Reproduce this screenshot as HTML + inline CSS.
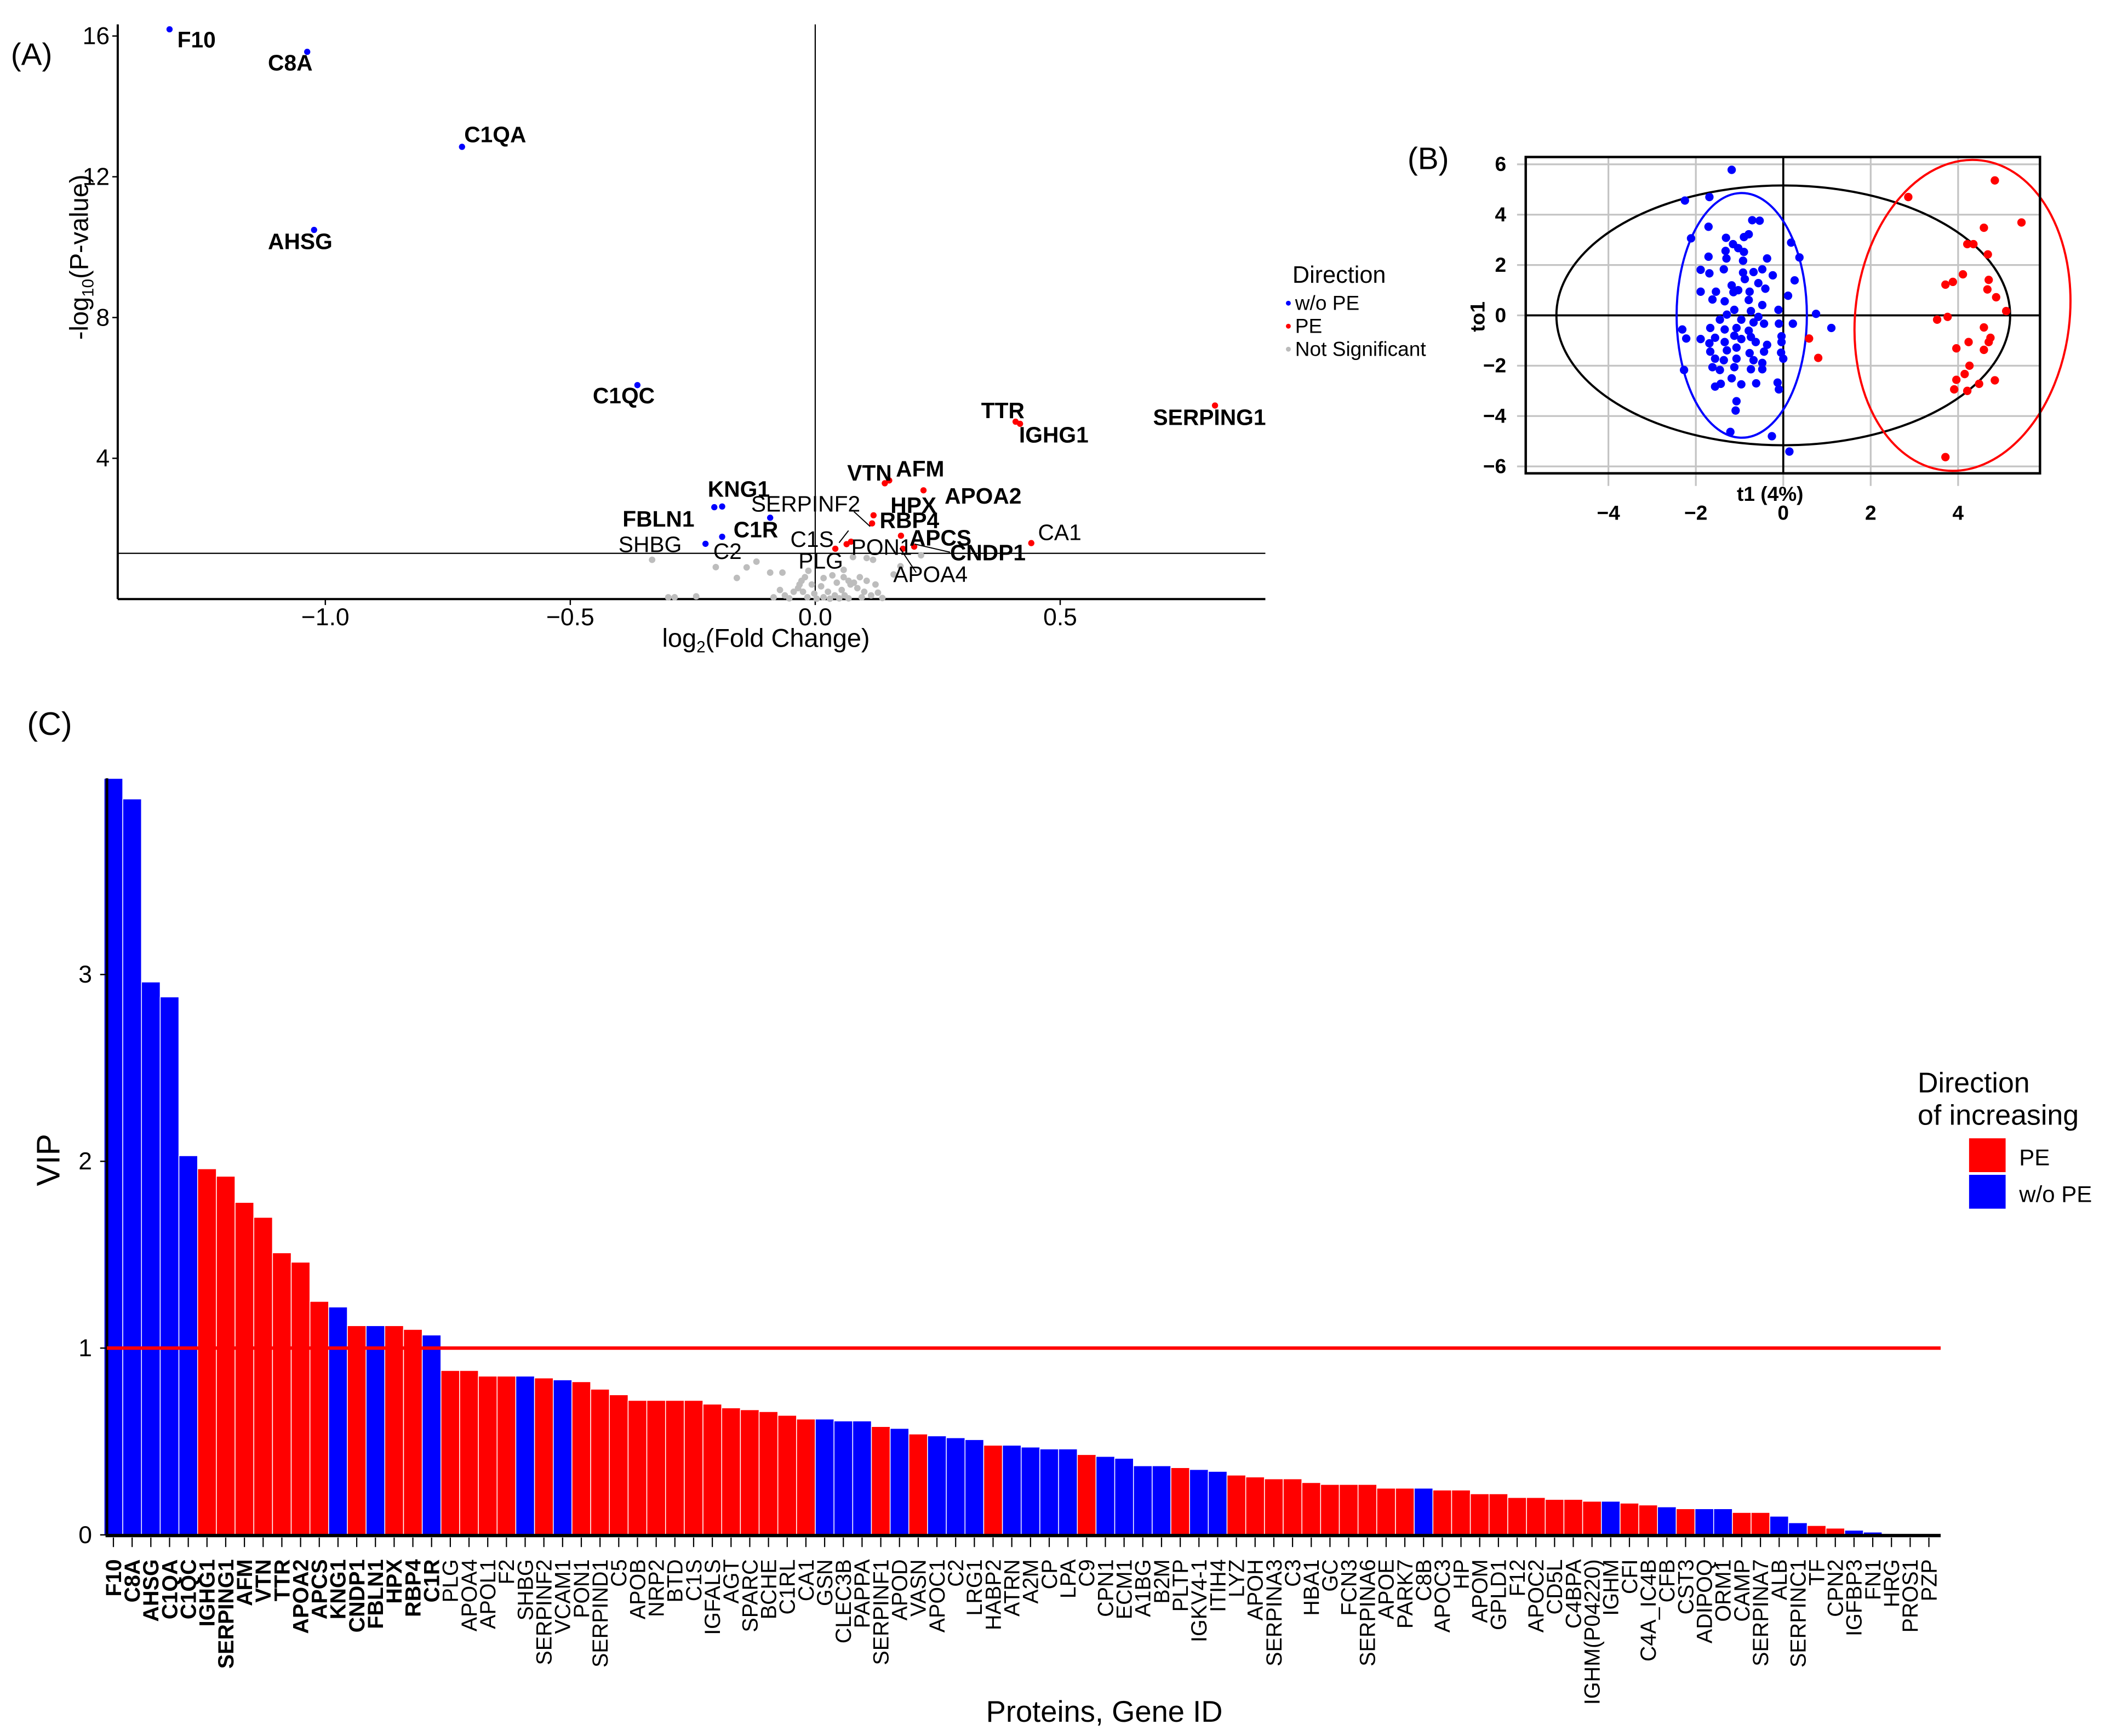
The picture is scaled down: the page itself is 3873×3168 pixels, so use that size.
<!DOCTYPE html>
<html><head><meta charset="utf-8"><style>
html,body{margin:0;padding:0;background:#fff;}
svg{display:block;font-family:"Liberation Sans",Arial,sans-serif;}
</style></head><body>
<svg id="fig" width="3873" height="3168" viewBox="0 0 1568 1282.6" preserveAspectRatio="none" xmlns="http://www.w3.org/2000/svg">
<rect x="0" y="0" width="1568" height="1282.6" fill="#fff"/>
<!-- Panel A static -->
<g id="panelA">
<text x="8" y="48" font-size="23">(A)</text>
<line x1="87" y1="18" x2="87" y2="442.6" stroke="#000" stroke-width="1.6"/>
<line x1="87" y1="442.6" x2="935" y2="442.6" stroke="#000" stroke-width="1.6"/>
<line x1="602.4" y1="18" x2="602.4" y2="442.6" stroke="#000" stroke-width="0.9"/>
<line x1="87" y1="408.8" x2="935" y2="408.8" stroke="#000" stroke-width="0.9"/>
<g id="aTicks"></g>
<g id="aPoints"></g>
<text transform="translate(65,190) rotate(-90)" font-size="19" text-anchor="middle">-log<tspan font-size="12" dy="4">10</tspan><tspan dy="-4">(P-value)</tspan></text>
<text x="566" y="478" font-size="19" text-anchor="middle">log<tspan font-size="12" dy="4">2</tspan><tspan dy="-4">(Fold Change)</tspan></text>
<g font-size="16.5" font-weight="bold">
<text x="131" y="35">F10</text><text x="198" y="52">C8A</text><text x="343" y="105">C1QA</text>
<text x="198" y="184">AHSG</text><text x="438" y="298">C1QC</text><text x="523" y="367">KNG1</text>
<text x="460" y="389">FBLN1</text><text x="542" y="397">C1R</text><text x="626" y="355">VTN</text>
<text x="662" y="352">AFM</text><text x="658" y="379">HPX</text><text x="650" y="390">RBP4</text>
<text x="698" y="372">APOA2</text><text x="672" y="403">APCS</text><text x="702" y="414">CNDP1</text>
<text x="725" y="309">TTR</text><text x="753" y="327">IGHG1</text><text x="852" y="314">SERPING1</text>
</g>
<g font-size="16.5">
<text x="457" y="408">SHBG</text><text x="527" y="413">C2</text><text x="555" y="378">SERPINF2</text>
<text x="584" y="404">C1S</text><text x="590" y="420">PLG</text><text x="629" y="410">PON1</text>
<text x="660" y="430">APOA4</text><text x="767" y="399">CA1</text>
</g>
<g stroke="#000" stroke-width="0.8">
<line x1="631" y1="378" x2="643" y2="389"/><line x1="620" y1="401" x2="627" y2="392"/>
<line x1="665" y1="405" x2="677" y2="423"/><line x1="676" y1="402" x2="702" y2="408"/>
</g>
<g>
<text x="955" y="209" font-size="17.5">Direction</text>
<circle cx="952" cy="224" r="1.8" fill="#0000ff"/><text x="957" y="229" font-size="15">w/o PE</text>
<circle cx="952" cy="241" r="1.8" fill="#ff0000"/><text x="957" y="246" font-size="15">PE</text>
<circle cx="952" cy="258" r="1.8" fill="#bbbbbb"/><text x="957" y="263" font-size="15">Not Significant</text>
</g>
</g>
<!-- Panel B -->
<g id="panelB">
<text x="1040" y="125" font-size="23">(B)</text>
<g id="bGrid"></g>
<g id="bMarks"></g>
<rect x="1127.4" y="116" width="380" height="233.7" fill="none" stroke="#000" stroke-width="1.8"/>
<text x="1308" y="370" font-size="15" font-weight="bold" text-anchor="middle">t1 (4%)</text>
<text transform="translate(1097,234) rotate(-90)" font-size="15" font-weight="bold" text-anchor="middle">to1</text>
</g>
<!-- Panel C -->
<g id="panelC">
<text x="20" y="543" font-size="24">(C)</text>
<g id="cBars"></g>
<line x1="79" y1="575" x2="79" y2="1135" stroke="#000" stroke-width="2"/>
<line x1="78" y1="1134.5" x2="1434" y2="1134.5" stroke="#000" stroke-width="2.5"/>
<line x1="79" y1="996" x2="1434" y2="996" stroke="#ff0000" stroke-width="2.5"/>
<g id="cAxis"></g>
<text transform="translate(44,857) rotate(-90)" font-size="24" text-anchor="middle">VIP</text>
<text x="816" y="1272" font-size="22" text-anchor="middle">Proteins, Gene ID</text>
<g>
<text x="1417" y="807" font-size="21">Direction</text>
<text x="1417" y="831" font-size="21">of increasing</text>
<rect x="1455" y="841" width="27" height="25" fill="#ff0000"/><text x="1492" y="861" font-size="17">PE</text>
<rect x="1455" y="868" width="27" height="25" fill="#0000ff"/><text x="1492" y="888" font-size="17">w/o PE</text>
</g>
</g>
</svg>
<script>
const NS="http://www.w3.org/2000/svg";
// ===== Panel A data =====
const blueFC=[-1.318,-1.037,-0.721,-1.023,-0.363,-0.206,-0.190,-0.092,-0.190,-0.224];
const blueP=[16.19,15.55,12.85,10.49,6.08,2.61,2.63,2.31,1.77,1.57];
const redFC=[0.816,0.409,0.418,0.142,0.151,0.221,0.119,0.116,0.175,0.441,0.073,0.064,0.041,0.202,0.179];
const redP=[5.50,5.04,4.98,3.29,3.37,3.09,2.38,2.15,1.80,1.59,1.63,1.56,1.43,1.49,1.43];
const grayFC=[-0.333,-0.203,-0.120,-0.092,-0.067,-0.014,-0.028,-0.032,-0.072,-0.062,-0.243,-0.287,-0.044,-0.025,-0.007,0.012,0.026,0.040,0.054,0.058,0.068,0.072,0.079,0.091,0.105,0.086,0.100,0.114,0.128,0.123,0.049,0.017,-0.016,0.003,0.030,0.068,0.118,0.105,0.077,0.160,0.174,0.216,0.017,0.035,0.044,-0.002,-0.035,-0.053,-0.085,0.060,0.095,0.137,-0.021,0.058,-0.140,-0.160,-0.300];
const grayP=[1.115,0.907,1.063,0.751,0.751,0.803,0.518,0.414,0.258,0.103,0.077,0.051,0.207,0.207,0.414,0.362,0.207,0.103,0.258,0.829,0.518,0.414,0.466,0.622,0.518,0.310,0.207,0.103,0.181,0.414,0.02,0.051,0.051,0.01,0.01,0.02,1.115,1.167,1.193,0.700,0.933,1.245,0.596,0.674,0.466,0.155,0.310,0.02,0.05,0.103,0.05,0.03,0.622,0.622,0.9,0.6,0.05];
const aXTicks=[-1.0,-0.5,0.0,0.5];
const aXTickLabels=["\u22121.0","\u22120.5","0.0","0.5"];
const aYTicks=[4,8,12,16];
// ===== Panel B data =====
const bBlueT1=[-1.18,-2.25,-1.69,-1.71,-2.11,-0.71,-0.54,-0.79,-0.90,-1.31,-1.15,-1.03,-1.32,-0.90,0.18,0.37,-1.71,-1.30,-0.37,-0.92,-1.89,-1.69,-1.36,-0.92,-0.68,-0.48,-0.24,-0.88,-1.18,-1.03,-0.57,-0.41,0.26,-1.89,-1.54,-1.14,-0.77,0.11,-1.62,-1.34,-0.79,-0.48,-1.12,-0.74,-0.11,-1.29,-1.45,-0.57,-0.96,-0.68,0.75,-1.67,-1.34,-1.07,-0.79,-0.44,-0.10,0.22,1.10,-2.31,-2.22,-1.89,-1.56,-1.12,-0.74,-0.04,-0.04,-1.69,-1.34,-0.96,-0.63,-0.37,-1.67,-1.29,-1.07,-0.77,-0.44,-0.05,-1.56,-1.36,-1.07,-0.68,0.00,-1.62,-1.45,-1.12,-0.74,-0.48,-0.48,-2.27,-1.18,-1.56,-1.43,-0.96,-0.62,-0.13,-0.10,-1.07,-1.09,-1.21,-0.26,0.14];
const bBlueTo1=[5.78,4.56,4.70,3.52,3.06,3.78,3.76,3.22,3.11,3.08,2.83,2.67,2.56,2.52,2.89,2.30,2.33,2.26,2.26,2.17,1.81,1.67,1.83,1.70,1.72,1.83,1.59,1.44,1.19,1.00,1.28,1.06,1.39,0.94,0.94,0.92,0.94,0.78,0.63,0.56,0.61,0.41,0.22,0.17,0.22,0.03,-0.17,-0.06,-0.17,-0.28,0.06,-0.50,-0.56,-0.50,-0.61,-0.33,-0.33,-0.33,-0.50,-0.56,-0.92,-0.94,-0.89,-0.81,-0.86,-0.83,-1.06,-1.11,-1.06,-0.94,-1.06,-1.17,-1.44,-1.39,-1.28,-1.50,-1.44,-1.48,-1.72,-1.78,-1.72,-1.78,-1.72,-2.06,-2.17,-2.06,-2.14,-1.89,-2.14,-2.17,-2.50,-2.83,-2.72,-2.74,-2.70,-2.67,-2.94,-3.41,-3.78,-4.63,-4.80,-5.41];
const bRedT1=[4.84,2.86,5.45,4.59,4.21,4.35,4.68,4.11,3.71,3.88,4.70,4.67,4.87,5.10,3.52,3.76,4.59,4.74,4.70,4.24,3.96,4.59,4.26,4.15,4.84,3.96,4.48,3.91,4.21,3.71,0.59,0.80];
const bRedTo1=[5.36,4.70,3.69,3.48,2.83,2.83,2.42,1.63,1.22,1.33,1.41,1.03,0.72,0.17,-0.17,-0.06,-0.48,-0.89,-1.06,-1.06,-1.31,-1.37,-2.00,-2.33,-2.58,-2.56,-2.72,-2.94,-3.00,-5.63,-0.92,-1.69];
const bXTicks=[-4,-2,0,2,4];
const bYTicks=[-6,-4,-2,0,2,4,6];
const bEllipseAll=[0.0,0.0,5.19,5.16,0];
const bEllipseBlue=[-0.95,0.0,1.49,4.86,0];
const bEllipseRed=[4.1,0.0,2.45,6.2,7];
// ===== Panel C data =====
const proteins=["F10","C8A","AHSG","C1QA","C1QC","IGHG1","SERPING1","AFM","VTN","TTR","APOA2","APCS","KNG1","CNDP1","FBLN1","HPX","RBP4","C1R","PLG","APOA4","APOL1","F2","SHBG","SERPINF2","VCAM1","PON1","SERPIND1","C5","APOB","NRP2","BTD","C1S","IGFALS","AGT","SPARC","BCHE","C1RL","CA1","GSN","CLEC3B","PAPPA","SERPINF1","APOD","VASN","APOC1","C2","LRG1","HABP2","ATRN","A2M","CP","LPA","C9","CPN1","ECM1","A1BG","B2M","PLTP","IGKV4-1","ITIH4","LYZ","APOH","SERPINA3","C3","HBA1","GC","FCN3","SERPINA6","APOE","PARK7","C8B","APOC3","HP","APOM","GPLD1","F12","APOC2","CD5L","C4BPA","IGHM(P04220)","IGHM","CFI","C4A_IC4B","CFB","CST3","ADIPOQ","ORM1","CAMP","SERPINA7","ALB","SERPINC1","TF","CPN2","IGFBP3","FN1","HRG","PROS1","PZP"];
const vip=[4.05,3.94,2.96,2.88,2.03,1.96,1.92,1.78,1.70,1.51,1.46,1.25,1.22,1.12,1.12,1.12,1.10,1.07,0.88,0.88,0.85,0.85,0.85,0.84,0.83,0.82,0.78,0.75,0.72,0.72,0.72,0.72,0.70,0.68,0.67,0.66,0.64,0.62,0.62,0.61,0.61,0.58,0.57,0.54,0.53,0.52,0.51,0.48,0.48,0.47,0.46,0.46,0.43,0.42,0.41,0.37,0.37,0.36,0.35,0.34,0.32,0.31,0.30,0.30,0.28,0.27,0.27,0.27,0.25,0.25,0.25,0.24,0.24,0.22,0.22,0.20,0.20,0.19,0.19,0.18,0.18,0.17,0.16,0.15,0.14,0.14,0.14,0.12,0.12,0.10,0.065,0.05,0.036,0.025,0.015,0.005,0.004,0.003];
const direction=["w","w","w","w","w","p","p","p","p","p","p","p","w","p","w","p","p","w","p","p","p","p","w","p","w","p","p","p","p","p","p","p","p","p","p","p","p","p","w","w","w","p","w","p","w","w","w","p","w","w","w","w","p","w","w","w","w","p","w","w","p","p","p","p","p","p","p","p","p","p","w","p","p","p","p","p","p","p","p","p","w","p","p","w","p","w","w","p","p","w","w","p","p","w","w","p","w","p"];
const boldCount=18;
const cYTicks=[0,1,2,3];

function mk(tag,attrs,parent){const e=document.createElementNS(NS,tag);for(const k in attrs)e.setAttribute(k,attrs[k]);parent.appendChild(e);return e;}
const ax=v=>602.4+362*v, ay=v=>442.6-26*v;
const bx=v=>1317.7+32.3*v, by=v=>233-18.6*v;
const cx=i=>83.8+13.83*i, cy=v=>1134-138*v;

const aT=document.getElementById('aTicks');
aXTicks.forEach((t,i)=>{
  mk('line',{x1:ax(t),y1:442.6,x2:ax(t),y2:447,stroke:'#000','stroke-width':1},aT);
  const tx=mk('text',{x:ax(t),y:462,'font-size':18,'text-anchor':'middle'},aT);
  tx.textContent=aXTickLabels[i];
  
  
});
aYTicks.forEach(t=>{
  mk('line',{x1:83,y1:ay(t),x2:87,y2:ay(t),stroke:'#000','stroke-width':1},aT);
  const tx=mk('text',{x:81,y:ay(t)+6,'font-size':18,'text-anchor':'end'},aT);
  tx.textContent=t;
  
  
});
const aP=document.getElementById('aPoints');
grayFC.forEach((v,i)=>{const c=mk('circle',{cx:ax(v),cy:ay(grayP[i]),r:2.4,fill:'#bdbdbd'},aP);
  
  });
blueFC.forEach((v,i)=>{const c=mk('circle',{cx:ax(v),cy:ay(blueP[i]),r:2.3,fill:'#0000ff'},aP);
  
  });
redFC.forEach((v,i)=>{const c=mk('circle',{cx:ax(v),cy:ay(redP[i]),r:2.3,fill:'#ff0000'},aP);
  
  });

const bG=document.getElementById('bGrid');
bXTicks.forEach(t=>{
  mk('line',{x1:bx(t),y1:116,x2:bx(t),y2:359,stroke:'#c4c4c4','stroke-width':1.3},bG);
  const tx=mk('text',{x:bx(t),y:384,'font-size':15,'font-weight':'bold','text-anchor':'middle'},bG);
  tx.textContent=(t<0?'\u2212'+(-t):t);
  
  
});
bYTicks.forEach(t=>{
  mk('line',{x1:1121,y1:by(t),x2:1507.4,y2:by(t),stroke:'#c4c4c4','stroke-width':1.3},bG);
  const tx=mk('text',{x:1113,y:by(t)+5,'font-size':15,'font-weight':'bold','text-anchor':'end'},bG);
  tx.textContent=(t<0?'\u2212'+(-t):t);
  
  
});
mk('line',{x1:bx(0),y1:116,x2:bx(0),y2:349.7,stroke:'#000','stroke-width':1.5},bG);
mk('line',{x1:1127.4,y1:by(0),x2:1507.4,y2:by(0),stroke:'#000','stroke-width':1.5},bG);
const bM=document.getElementById('bMarks');
function ell(p,color,name){
  const e=mk('ellipse',{cx:bx(p[0]),cy:by(p[1]),rx:32.3*p[2],ry:18.6*p[3],fill:'none',stroke:color,'stroke-width':1.6,transform:`rotate(${p[4]} ${bx(p[0])} ${by(p[1])})`},bM);
  
  
}
ell(bEllipseAll,'#000','hotelling-ellipse');
ell(bEllipseBlue,'#0000ff','wo-pe-ellipse');
ell(bEllipseRed,'#ff0000','pe-ellipse');
bBlueT1.forEach((v,i)=>{const c=mk('circle',{cx:bx(v),cy:by(bBlueTo1[i]),r:3.1,fill:'#0000ff'},bM);
  
  });
bRedT1.forEach((v,i)=>{const c=mk('circle',{cx:bx(v),cy:by(bRedTo1[i]),r:3.1,fill:'#ff0000'},bM);
  
  });

const cB=document.getElementById('cBars');
const bw=13.83;
vip.forEach((v,i)=>{
  const r=mk('rect',{x:cx(i)-bw/2,y:cy(v),width:bw,height:1134-cy(v),fill:direction[i]==='p'?'#ff0000':'#0000ff',stroke:'#fff','stroke-width':0.6},cB);
  
  
});
const cA=document.getElementById('cAxis');
cYTicks.forEach(t=>{
  mk('line',{x1:74,y1:cy(t),x2:79,y2:cy(t),stroke:'#000','stroke-width':1},cA);
  const tx=mk('text',{x:68,y:cy(t)+6,'font-size':18,'text-anchor':'end'},cA);
  tx.textContent=t;
  
  
});
proteins.forEach((p,i)=>{
  mk('line',{x1:cx(i),y1:1136,x2:cx(i),y2:1143,stroke:'#000','stroke-width':0.9},cA);
  const tx=mk('text',{'font-size':16,'text-anchor':'end',transform:`translate(${cx(i)+5.6},1152) rotate(-90)`},cA);
  if(i<boldCount)tx.setAttribute('font-weight','bold');
  tx.textContent=p;
  
  
});
</script>
</body></html>
